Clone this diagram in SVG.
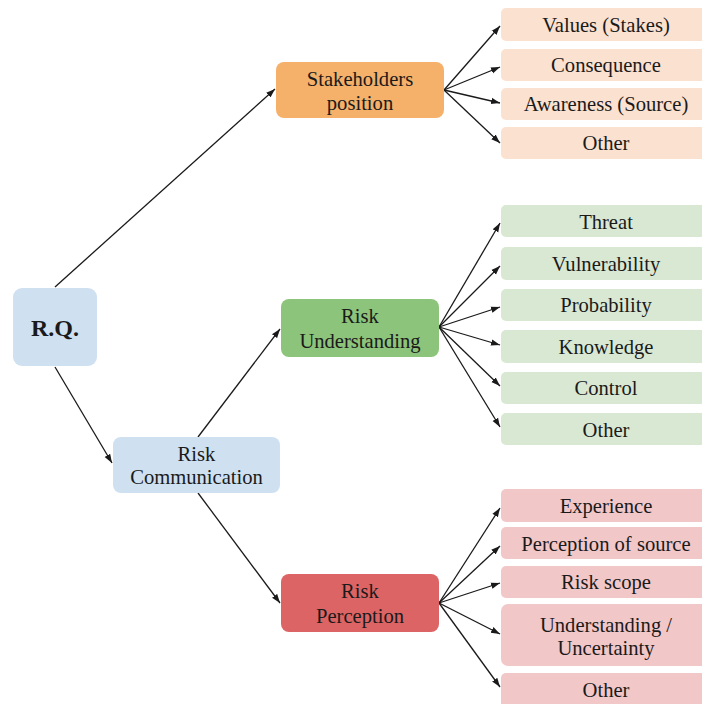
<svg xmlns="http://www.w3.org/2000/svg" width="702" height="704" viewBox="0 0 702 704">
<defs>
<marker id="ah" markerWidth="10" markerHeight="8" refX="9" refY="4" orient="auto" markerUnits="userSpaceOnUse">
<path d="M0,0.8 L9,4 L0,7.2 Z" fill="#1a1a1a"/>
</marker>
<style>
text{font-family:'Liberation Serif','Times New Roman',serif;font-size:20.6px;fill:#1a1a1a;text-anchor:middle}
.b{font-weight:bold;font-size:24px}
.blue{fill:#cfe1f1}
.org{fill:#f5b06a}
.lorg{fill:#fbe1d0}
.grn{fill:#8dc47b}
.lgrn{fill:#d9e8d3}
.red{fill:#dd6464}
.pink{fill:#f2c7c8}
#connectors line{stroke:#1a1a1a;stroke-width:1.3;marker-end:url(#ah)}
</style>
</defs>
<rect width="702" height="704" fill="#ffffff"/>

<g id="connectors">
<line x1="55" y1="287" x2="275" y2="89"/>
<line x1="55" y1="367" x2="112" y2="463"/>
<line x1="198" y1="437" x2="280" y2="329"/>
<line x1="198" y1="493" x2="280" y2="603"/>
<line x1="444" y1="90" x2="500" y2="26"/>
<line x1="444" y1="90" x2="500" y2="67"/>
<line x1="444" y1="90" x2="500" y2="103"/>
<line x1="444" y1="90" x2="500" y2="143"/>
<line x1="439" y1="327" x2="500" y2="223"/>
<line x1="439" y1="327" x2="500" y2="266"/>
<line x1="439" y1="327" x2="500" y2="307"/>
<line x1="439" y1="327" x2="500" y2="345"/>
<line x1="439" y1="327" x2="500" y2="386"/>
<line x1="439" y1="327" x2="500" y2="427"/>
<line x1="439" y1="603" x2="500" y2="508"/>
<line x1="439" y1="603" x2="500" y2="546"/>
<line x1="439" y1="603" x2="500" y2="583"/>
<line x1="439" y1="603" x2="500" y2="634"/>
<line x1="439" y1="603" x2="500" y2="687"/>
</g>

<g id="rq"><rect class="blue" x="13" y="288" width="84" height="78" rx="9"/><text class="b" x="55" y="336">R.Q.</text></g>
<g id="risk-communication"><rect class="blue" x="113" y="437" width="167" height="56" rx="8"/><text x="196.5" y="461">Risk</text><text x="196.5" y="484">Communication</text></g>
<g id="stakeholders-position"><rect class="org" x="276" y="62" width="168" height="56" rx="8"/><text x="360" y="86">Stakeholders</text><text x="360" y="110">position</text></g>
<g id="risk-understanding"><rect class="grn" x="281" y="299" width="158" height="58" rx="8"/><text x="360" y="323">Risk</text><text x="360" y="348">Understanding</text></g>
<g id="risk-perception"><rect class="red" x="281" y="574" width="158" height="58" rx="8"/><text x="360" y="598">Risk</text><text x="360" y="623">Perception</text></g>

<g id="values"><rect class="lorg" x="501" y="8" width="211" height="33" rx="5"/><text x="606" y="32">Values (Stakes)</text></g>
<g id="consequence"><rect class="lorg" x="501" y="49" width="211" height="32" rx="5"/><text x="606" y="72">Consequence</text></g>
<g id="awareness"><rect class="lorg" x="501" y="88" width="211" height="32" rx="5"/><text x="606" y="111">Awareness (Source)</text></g>
<g id="other-sp"><rect class="lorg" x="501" y="127" width="211" height="32" rx="5"/><text x="606" y="150">Other</text></g>

<g id="threat"><rect class="lgrn" x="501" y="205" width="211" height="32" rx="5"/><text x="606" y="229">Threat</text></g>
<g id="vulnerability"><rect class="lgrn" x="501" y="247" width="211" height="33" rx="5"/><text x="606" y="271">Vulnerability</text></g>
<g id="probability"><rect class="lgrn" x="501" y="289" width="211" height="32" rx="5"/><text x="606" y="312">Probability</text></g>
<g id="knowledge"><rect class="lgrn" x="501" y="330" width="211" height="33" rx="5"/><text x="606" y="354">Knowledge</text></g>
<g id="control"><rect class="lgrn" x="501" y="372" width="211" height="32" rx="5"/><text x="606" y="395">Control</text></g>
<g id="other-ru"><rect class="lgrn" x="501" y="413" width="211" height="32" rx="5"/><text x="606" y="437">Other</text></g>

<g id="experience"><rect class="pink" x="501" y="489" width="211" height="33" rx="5"/><text x="606" y="513">Experience</text></g>
<g id="perception-of-source"><rect class="pink" x="501" y="527" width="211" height="32" rx="5"/><text x="606" y="551">Perception of source</text></g>
<g id="risk-scope"><rect class="pink" x="501" y="566" width="211" height="32" rx="5"/><text x="606" y="589">Risk scope</text></g>
<g id="understanding-uncertainty"><rect class="pink" x="501" y="604" width="211" height="62" rx="7"/><text x="606" y="632">Understanding /</text><text x="606" y="655">Uncertainty</text></g>
<g id="other-rp"><rect class="pink" x="501" y="673" width="211" height="40" rx="5"/><text x="606" y="697">Other</text></g>
</svg>
